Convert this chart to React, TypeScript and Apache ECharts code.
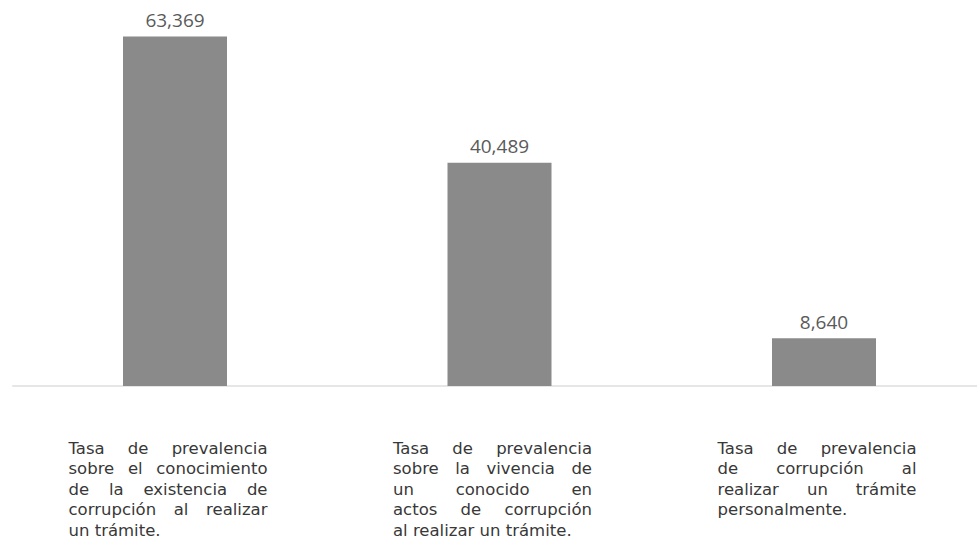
import React, { useEffect, useRef } from "react";
import * as echarts from "echarts";

const categoryLines: string[][] = [
  ["Tasa de prevalencia", "sobre el conocimiento", "de la existencia de", "corrupción al realizar", "un trámite."],
  ["Tasa de prevalencia", "sobre la vivencia de", "un conocido en", "actos de corrupción", "al realizar un trámite."],
  ["Tasa de prevalencia", "de corrupción al", "realizar un trámite", "personalmente."],
];
const categories = categoryLines.map((l) => l.join(" "));
const values = [63.369, 40.489, 8.64];

const LABEL_FONT = "DejaVu Sans";
const LABEL_SIZE = 16.5;
const LINE_H = 20.5;
const BLOCK_W = 199;

function buildLabels() {
  const canvas = document.createElement("canvas");
  const ctx = canvas.getContext("2d")!;
  ctx.font = `${LABEL_SIZE}px "${LABEL_FONT}"`;
  const w = (s: string) => ctx.measureText(s).width;
  const rich: Record<string, any> = {};
  const texts = categoryLines.map((lines, ci) =>
    lines
      .map((line, li) => {
        const words = line.split(" ");
        const isLast = li === lines.length - 1;
        if (isLast || words.length === 1) {
          const name = `p${ci}x${li}`;
          rich[name] = { width: Math.max(0, BLOCK_W - w(line)), lineHeight: LINE_H, fontSize: LABEL_SIZE, fontFamily: LABEL_FONT };
          return `${line}{${name}| }`;
        }
        const sum = words.reduce((a, s) => a + w(s), 0);
        const gap = (BLOCK_W - sum) / (words.length - 1);
        const name = `g${ci}x${li}`;
        rich[name] = { width: gap, lineHeight: LINE_H, fontSize: LABEL_SIZE, fontFamily: LABEL_FONT };
        return words.join(`{${name}| }`);
      })
      .join("\n")
  );
  return { texts, rich };
}

export default function App() {
  const ref = useRef<HTMLDivElement>(null);
  useEffect(() => {
    if (!ref.current) return;
    const chart = echarts.init(ref.current, undefined, { renderer: "svg" });
    const { texts, rich } = buildLabels();
    chart.setOption({
      animation: false,
      backgroundColor: "#ffffff",
      grid: { left: 12.75, top: 0, width: 973.5, height: 386, containLabel: false },
      xAxis: {
        type: "category",
        data: categories,
        axisLine: { show: true, lineStyle: { color: "#dedede", width: 1.5 } },
        axisTick: { show: false },
        axisLabel: {
          interval: 0,
          margin: 52,
          align: "center",
          verticalAlign: "top",
          padding: [0, 14, 0, 0],
          color: "#383838",
          fontFamily: LABEL_FONT,
          fontSize: LABEL_SIZE,
          lineHeight: LINE_H,
          formatter: (_v: string, i: number) => texts[i],
          rich,
        },
      },
      yAxis: {
        type: "value",
        min: 0,
        max: 70,
        show: false,
        splitLine: { show: false },
      },
      series: [
        {
          type: "bar",
          data: values,
          barWidth: 104,
          itemStyle: { color: "#8a8a8a" },
          label: {
            show: true,
            position: "top",
            distance: 7,
            color: "#5a5a5a",
            fontFamily: "Open Sans",
            fontSize: 19,
            formatter: (p: any) => p.value.toFixed(3).replace(".", ","),
          },
        },
      ],
    });
    return () => chart.dispose();
  }, []);
  return (
    <div
      ref={ref}
      style={{ position: "fixed", left: 0, top: 0, width: 1000, height: 546 }}
    />
  );
}
